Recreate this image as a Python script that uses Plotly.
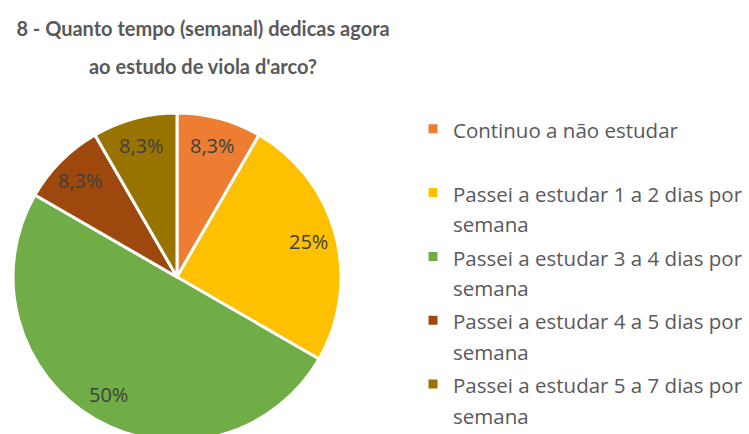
import math
import plotly.graph_objects as go

# Data
categories = [
    "Continuo a não estudar",
    "Passei a estudar 1 a 2 dias por semana",
    "Passei a estudar 3 a 4 dias por semana",
    "Passei a estudar 4 a 5 dias por semana",
    "Passei a estudar 5 a 7 dias por semana",
]
counts = [1, 3, 6, 1, 1]
colors = ["#ED7D31", "#FFC000", "#70AD47", "#9E480E", "#997300"]
title_lines = ["8 - Quanto tempo (semanal) dedicas agora", "ao estudo de viola d'arco?"]

W, H = 749, 444
LEG_FS = 20.5
TITLE_FS = 20

# pie geometry (pixels)
PIE_LEFT, PIE_TOP, PIE_SIZE = 13, 113, 328
LABEL_R = 0.83


def legend_label(cat):
    if " por " in cat:
        a, b = cat.rsplit(" por ", 1)
        parts = [a + " por", b]
    else:
        parts = [cat, "\u00a0"]
    return "<br>".join(f"<span style='font-size:{LEG_FS}px'>{p}</span>" for p in parts)


def pct_text(v, total):
    p = v / total * 100
    s = f"{p:.2g}" if p < 10 else f"{p:.0f}"
    return s.replace(".", ",") + "%"


labels = [legend_label(c) for c in categories]
total = sum(counts)

fig = go.Figure(
    go.Pie(
        labels=labels,
        values=counts,
        sort=False,
        direction="clockwise",
        rotation=0,
        marker=dict(colors=colors, line=dict(color="white", width=3)),
        textinfo="none",
        hoverinfo="label+percent",
        domain=dict(
            x=[PIE_LEFT / W, (PIE_LEFT + PIE_SIZE) / W],
            y=[1 - (PIE_TOP + PIE_SIZE) / H, 1 - PIE_TOP / H],
        ),
    )
)

# data labels placed at the mid-angle of each slice
cx = PIE_LEFT + PIE_SIZE / 2
cy = PIE_TOP + PIE_SIZE / 2
r = PIE_SIZE / 2
cum = 0
annotations = []
for v in counts:
    mid = (cum + v / 2) / total * 2 * math.pi
    cum += v
    px = cx + LABEL_R * r * math.sin(mid)
    py = cy - LABEL_R * r * math.cos(mid)
    annotations.append(
        dict(
            x=px / W, y=1 - py / H, xref="paper", yref="paper",
            text=pct_text(v, total), showarrow=False,
            xanchor="center", yanchor="middle",
            font=dict(family="Open Sans", size=20, color="#404040"),
        )
    )

fig.update_layout(
    width=W,
    height=H,
    margin=dict(l=0, r=0, t=0, b=0),
    paper_bgcolor="white",
    plot_bgcolor="white",
    annotations=annotations,
    title=dict(
        text="<br>".join(f"<span style='font-size:{TITLE_FS}px'>{t}</span>" for t in title_lines),
        x=203 / W,
        xanchor="center",
        y=1 - 36 / H,
        yanchor="middle",
        yref="container",
        font=dict(family="Lato", size=29.5, color="#595959", weight="bold"),
    ),
    legend=dict(
        x=413 / W,
        xanchor="left",
        y=1 - 107 / H,
        yanchor="top",
        valign="top",
        font=dict(family="Open Sans", size=23.4, color="#595959"),
        bgcolor="rgba(0,0,0,0)",
    ),
    showlegend=True,
)

fig.write_html(
    "out.html",
    config={"displayModeBar": False},
    post_script=(
        "document.body.style.margin='0';"
        "document.body.style.overflow='hidden';"
        "document.documentElement.style.overflow='hidden';"
    ),
)
